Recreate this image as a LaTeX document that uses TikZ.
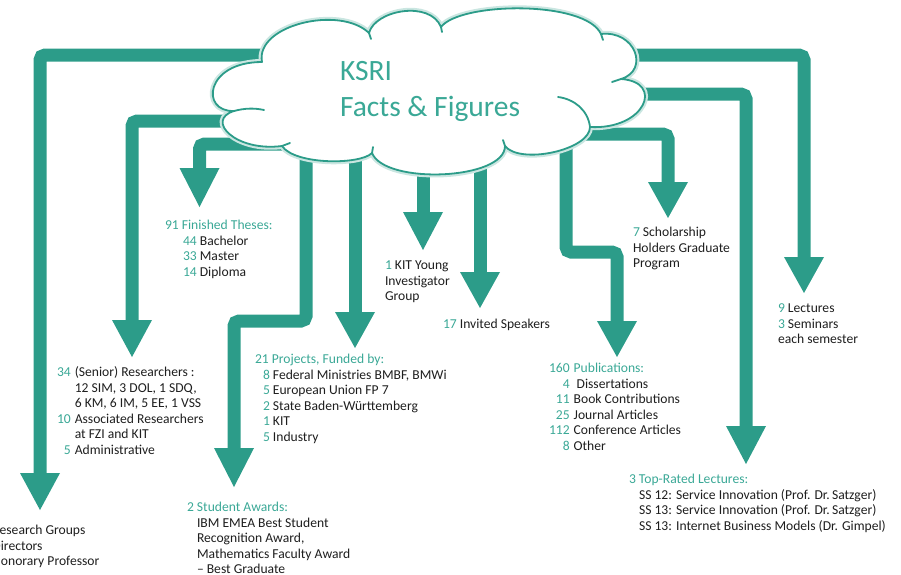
\documentclass[tikz,border=0pt]{standalone}
\usepackage{fontspec}
\setmainfont{Carlito}
\usetikzlibrary{calc}
\definecolor{arr}{HTML}{2C9C89}
\definecolor{tl}{HTML}{3AA896}
\definecolor{ink}{HTML}{1E1E1E}
\newcommand{\nm}[1]{\textcolor{tl}{#1}}
\begin{document}
\begin{tikzpicture}[x=1pt,y=-1pt,
  shaft/.style={draw=arr,line width=13pt,rounded corners=5pt},
  headfill/.style={fill=arr},
  cloudline/.style={draw=arr,line width=1.8pt,line cap=round},
  txt/.style={anchor=base west,inner sep=0pt,outer sep=0pt,text=ink,font=\fontsize{13.6}{15.5}\selectfont},
  titletxt/.style={anchor=base west,inner sep=0pt,outer sep=0pt,text=tl,font=\fontsize{29.5}{36}\selectfont}]
\useasboundingbox (0,0) rectangle (901,574);

% arrow geometry
\coordinate (s1) at (275,55);  \coordinate (c1) at (40,55);   \coordinate (h1) at (40,473);  \coordinate (t1) at (40,510);
\coordinate (s2) at (250,121); \coordinate (c2) at (132,121); \coordinate (h2) at (132,320); \coordinate (t2) at (132,357);
\coordinate (s3) at (290,144); \coordinate (c3) at (199.5,144); \coordinate (h3) at (199.5,168); \coordinate (t3) at (199.5,207);
\coordinate (s4) at (306,140); \coordinate (c4a) at (306,321); \coordinate (c4b) at (234,321); \coordinate (h4) at (234,448); \coordinate (t4) at (234,487);
\coordinate (s5) at (355,140); \coordinate (h5) at (355,312); \coordinate (t5) at (355,348);
\coordinate (s6) at (423,150); \coordinate (h6) at (423,212); \coordinate (t6) at (423,250);
\coordinate (s7) at (480,150); \coordinate (h7) at (480,272); \coordinate (t7) at (480,308);
\coordinate (s8) at (566,130); \coordinate (c8a) at (566,252); \coordinate (c8b) at (617,252); \coordinate (h8) at (617,321); \coordinate (t8) at (617,357);
\coordinate (s9) at (570,134); \coordinate (c9) at (668,134); \coordinate (h9) at (668,182); \coordinate (t9) at (668,218);
\coordinate (s10) at (620,94); \coordinate (c10) at (746,94); \coordinate (h10) at (746,426); \coordinate (t10) at (746,464);
\coordinate (s11) at (615,55); \coordinate (c11) at (804,55); \coordinate (h11) at (804,257); \coordinate (t11) at (804,293);

% shafts
\draw[shaft] (s1) -- (c1) -- ($(h1)+(0,1)$);
\draw[shaft] (s2) -- (c2) -- ($(h2)+(0,1)$);
\draw[shaft] (s3) -- (c3) -- ($(h3)+(0,1)$);
\draw[shaft] (s4) -- (c4a) -- (c4b) -- ($(h4)+(0,1)$);
\draw[shaft] (s5) -- ($(h5)+(0,1)$);
\draw[shaft] (s6) -- ($(h6)+(0,1)$);
\draw[shaft] (s7) -- ($(h7)+(0,1)$);
\draw[shaft] (s8) -- (c8a) -- (c8b) -- ($(h8)+(0,1)$);
\draw[shaft] (s9) -- (c9) -- ($(h9)+(0,1)$);
\draw[shaft] (s10) -- (c10) -- ($(h10)+(0,1)$);
\draw[shaft] (s11) -- (c11) -- ($(h11)+(0,1)$);
% heads
\foreach \i in {1,...,11}
  \fill[headfill] ($(h\i)+(-20,0)$) -- ($(h\i)+(20,0)$) -- (t\i) -- cycle;

% cloud
\draw[draw=arr,line width=1.8pt,fill=white,line join=round,
      preaction={draw=arr!25,line width=6pt}]
  (262,62) .. controls (255,25) and (340,5) .. (369,33)
  .. controls (375,10) and (430,0) .. (441,27)
  .. controls (460,2) and (585,0) .. (601,34)
  .. controls (635,30) and (650,70) .. (621,79)
  .. controls (665,82) and (645,130) .. (590,127)
  .. controls (590,150) and (520,165) .. (505,146)
  .. controls (505,180) and (385,185) .. (372,153)
  .. controls (360,165) and (295,165) .. (282,146)
  .. controls (235,152) and (205,120) .. (234,111)
  .. controls (200,112) and (205,62) .. (262,62) -- cycle;
\draw[cloudline] (234,111) .. controls (245,108) and (255,108) .. (264,110);
\draw[cloudline] (558,97) .. controls (574,99) and (588,110) .. (590,127);
\draw[cloudline] (369,33) -- (371,39);
\draw[cloudline] (441,27) -- (442,32);
\draw[cloudline] (601,34) -- (603,40);
\draw[cloudline] (621,79) -- (612,82);
\draw[cloudline] (505,146) -- (503,140);
\draw[cloudline] (372,153) -- (373,147);
\draw[cloudline] (282,146) -- (290,143);

\node[titletxt] (ksri) at (340,80) {\begin{tabular}[t]{@{}l@{}}KSRI\\Facts \& Figures\end{tabular}};

% texts
\node[txt] (theses) at (165,229.5) {\begin{tabular}[t]{@{}l@{}}\nm{91 Finished Theses:}\\\hspace{18pt}\nm{44} Bachelor\\\hspace{18pt}\nm{33} Master\\\hspace{18pt}\nm{14} Diploma\end{tabular}};

\node[txt] (res) at (57,376.5) {\begin{tabular}[t]{@{}r@{\hspace{4pt}}l@{}}\nm{34}&(Senior) Researchers :\\&12 SIM, 3 DOL, 1 SDQ,\\&6 KM, 6 IM, 5 EE, 1 VSS\\\nm{10}&Associated Researchers\\&at FZI and KIT\\\nm{5}&Administrative\end{tabular}};

\node[txt] (groups) at (-7.5,534.5) {\begin{tabular}[t]{@{}l@{}}Research Groups\\Directors\\Honorary Professor\end{tabular}};

\node[txt] (proj) at (255,363.5) {\begin{tabular}[t]{@{}l@{}}\nm{21 Projects, Funded by:}\\\hspace{8pt}\nm{8} Federal Ministries BMBF, BMWi\\\hspace{8pt}\nm{5} European Union FP 7\\\hspace{8pt}\nm{2} State Baden-Württemberg\\\hspace{8pt}\nm{1} KIT\\\hspace{8pt}\nm{5} Industry\end{tabular}};

\node[txt] (awards) at (187,511.5) {\begin{tabular}[t]{@{}l@{}}\nm{2 Student Awards:}\\\hspace{10pt}IBM EMEA Best Student\\\hspace{10pt}Recognition Award,\\\hspace{10pt}Mathematics Faculty Award\\\hspace{10pt}– Best Graduate\end{tabular}};

\node[txt] (kit) at (385,269.5) {\begin{tabular}[t]{@{}l@{}}\nm{1} KIT Young\\Investigator\\Group\end{tabular}};

\node[txt] (inv) at (443,328.5) {\nm{17} Invited Speakers};

\node[txt] (schol) at (633,236.5) {\begin{tabular}[t]{@{}l@{}}\nm{7} Scholarship\\Holders Graduate\\Program\end{tabular}};

\node[txt] (lect) at (778,312.5) {\begin{tabular}[t]{@{}l@{}}\nm{9} Lectures\\\nm{3} Seminars\\each semester\end{tabular}};

\node[txt] (pubs) at (549,372.5) {\begin{tabular}[t]{@{}r@{\hspace{4pt}}l@{}}\nm{160}&\nm{Publications:}\\\nm{4}&\hspace{3pt}Dissertations\\\nm{11}&Book Contributions\\\nm{25}&Journal Articles\\\nm{112}&Conference Articles\\\nm{8}&Other\end{tabular}};

\node[txt] (top) at (629,483.5) {\begin{tabular}[t]{@{}l@{}}\nm{3 Top-Rated Lectures:}\\\hspace{10pt}SS 12: Service Innovation (Prof. Dr.\,Satzger)\\\hspace{10pt}SS 13: Service Innovation (Prof. Dr.\,Satzger)\\\hspace{10pt}SS 13: Internet Business Models (Dr. Gimpel)\end{tabular}};
\end{tikzpicture}
\end{document}
